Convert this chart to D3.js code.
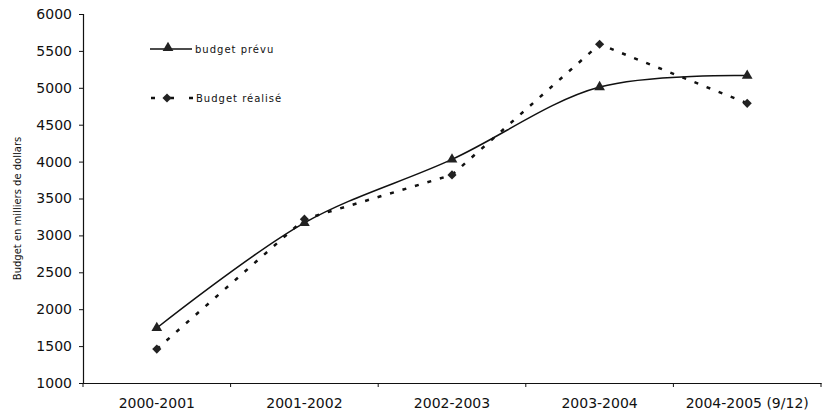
<!DOCTYPE html>
<html>
<head>
<meta charset="utf-8">
<script src="https://cdn.jsdelivr.net/npm/d3@7"></script>
<style>
body { margin: 0; background: #fff; }
text { font-family: "DejaVu Sans", sans-serif; fill: #111; }
</style>
</head>
<body>
<svg id="chart" width="828" height="420"></svg>
<script>
// values (milliers de dollars)
const categories = ["2000-2001", "2001-2002", "2002-2003", "2003-2004", "2004-2005 (9/12)"];
const budgetPrevu = [1745, 3170, 4030, 5010, 5165];
const budgetRealise = [1460, 3220, 3820, 5590, 4790];
const yTicks = [1000, 1500, 2000, 2500, 3000, 3500, 4000, 4500, 5000, 5500, 6000];

const svg = d3.select("#chart");
const mLeft = 83, mRight = 821, mTop = 14, mBottom = 383;

const x = d3.scaleBand().domain(categories).range([mLeft, mRight]);
const y = d3.scaleLinear().domain([1000, 6000]).range([mBottom, mTop]);
const cx = d => x(d) + x.bandwidth() / 2;

// axes
const yAxis = svg.append("g")
    .attr("transform", "translate(" + mLeft + ",0)")
    .call(d3.axisLeft(y).tickValues(yTicks).tickSize(4).tickPadding(7).tickFormat(d3.format("d")));
yAxis.selectAll("text").style("font-size", "14px");

const xAxis = svg.append("g")
    .attr("transform", "translate(0," + mBottom + ")")
    .call(d3.axisBottom(x).tickSize(0).tickPadding(15));
xAxis.selectAll("text").style("font-size", "14px");
// category boundary ticks
xAxis.selectAll("line.sep")
    .data(d3.range(categories.length + 1))
    .enter().append("line")
    .attr("class", "sep")
    .attr("x1", i => mLeft + i * x.step())
    .attr("x2", i => mLeft + i * x.step())
    .attr("y1", 0).attr("y2", 4)
    .attr("stroke", "#111");
svg.selectAll(".domain").attr("stroke", "#111").attr("stroke-width", 1.2);
svg.selectAll(".tick line").attr("stroke", "#111");

svg.append("text")
    .attr("transform", "translate(21," + ((mTop + mBottom) / 2 + 10) + ") rotate(-90)")
    .attr("text-anchor", "middle")
    .style("font-size", "10px")
    .text("Budget en milliers de dollars");

// lines
const linePrevu = d3.line()
    .x((d, i) => cx(categories[i]))
    .y(d => y(d))
    .curve(d3.curveCatmullRom.alpha(0.5));
const lineRealise = d3.line()
    .x((d, i) => cx(categories[i]))
    .y(d => y(d));

svg.append("path")
    .attr("d", linePrevu(budgetPrevu))
    .attr("fill", "none")
    .attr("stroke", "#111")
    .attr("stroke-width", 1.5);

svg.append("path")
    .attr("d", lineRealise(budgetRealise))
    .attr("fill", "none")
    .attr("stroke", "#111")
    .attr("stroke-width", 2.5)
    .attr("stroke-dasharray", "4,9");

const tri = d3.symbol().type(d3.symbolTriangle).size(50);
const dia = d3.symbol().type(d3.symbolSquare).size(42);

svg.selectAll("path.tri")
    .data(budgetPrevu)
    .enter().append("path")
    .attr("class", "tri")
    .attr("d", tri)
    .attr("transform", (d, i) => "translate(" + cx(categories[i]) + "," + y(d) + ")")
    .attr("fill", "#222");

svg.selectAll("path.dia")
    .data(budgetRealise)
    .enter().append("path")
    .attr("class", "dia")
    .attr("d", dia)
    .attr("transform", (d, i) => "translate(" + cx(categories[i]) + "," + y(d) + ") rotate(45)")
    .attr("fill", "#222");

// legend
const lg = svg.append("g");
lg.append("line")
    .attr("x1", 150).attr("x2", 192).attr("y1", 49).attr("y2", 49)
    .attr("stroke", "#111").attr("stroke-width", 1.5);
lg.append("path").attr("d", tri).attr("transform", "translate(168,48)").attr("fill", "#222");
lg.append("text").attr("x", 195).attr("y", 53)
    .style("font-size", "10px").style("letter-spacing", "1px")
    .text("budget prévu");

lg.append("line")
    .attr("x1", 151).attr("x2", 193).attr("y1", 98).attr("y2", 98)
    .attr("stroke", "#111").attr("stroke-width", 2.5)
    .attr("stroke-dasharray", "4,15");
lg.append("path").attr("d", dia).attr("transform", "translate(167,98) rotate(45)").attr("fill", "#222");
lg.append("text").attr("x", 196).attr("y", 102)
    .style("font-size", "10px").style("letter-spacing", "1px")
    .text("Budget réalisé");
</script>
</body>
</html>
